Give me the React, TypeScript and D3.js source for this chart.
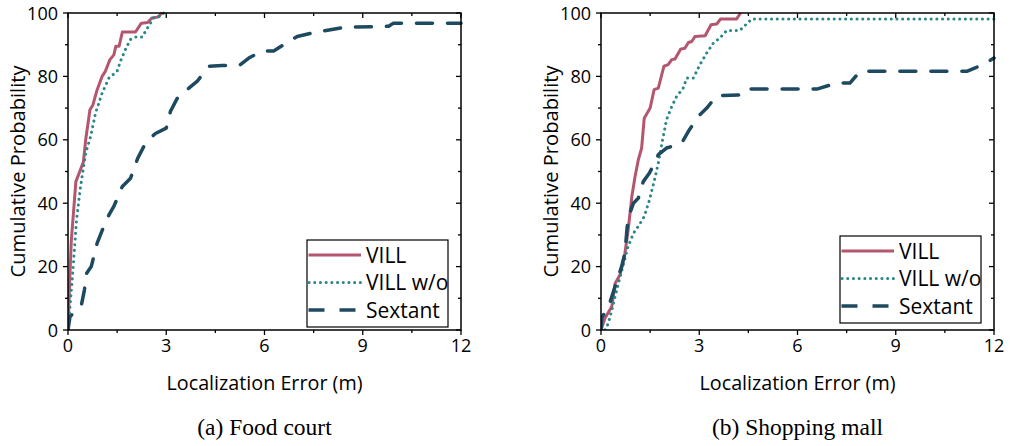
import React from "react";
import * as d3 from "d3";

type Pt = [number, number];

// Panel (a) Food court
const foodVill: Pt[] = [
  [0, 0], [0.05, 15], [0.1, 28], [0.24, 46.8], [0.47, 53], [0.54, 60], [0.67, 69.5], [0.76, 71],
  [0.89, 75.8], [1.04, 80], [1.14, 81.6], [1.28, 85.3], [1.4, 86.8], [1.46, 89.5],
  [1.56, 89.5], [1.66, 94], [2.06, 94], [2.24, 96.8], [2.43, 97], [2.56, 98.4],
  [2.74, 98.7], [2.87, 100],
];
const foodVillWo: Pt[] = [
  [0, 0], [0.06, 7.4], [0.13, 15.8], [0.26, 34.7], [0.38, 45], [0.54, 55.8], [0.69, 61],
  [0.84, 68.4], [1.04, 74.7], [1.25, 79.5], [1.5, 81.6], [1.6, 84.7], [1.75, 88.4],
  [1.9, 91.6], [2.06, 92.4], [2.26, 92.4], [2.46, 95.8], [2.61, 98.4], [2.82, 99], [2.92, 100],
];
const foodSextant: Pt[] = [
  [0, 0], [0.06, 4.2], [0.41, 7.9], [0.5, 12.6], [0.57, 17.9], [0.71, 20], [0.89, 27.4],
  [1.05, 31.6], [1.25, 36.3], [1.4, 39], [1.66, 45.3], [1.91, 47.9], [2.13, 54.2],
  [2.37, 59], [2.67, 62], [3.0, 63.7], [3.13, 69], [3.33, 73], [3.69, 76.3], [3.94, 78.4],
  [4.3, 83.2], [4.7, 83.4], [5.26, 83.7], [5.52, 85.8], [5.93, 88], [6.28, 88], [6.74, 91],
  [7.0, 92.6], [7.6, 94], [8.47, 95.5], [9.79, 95.8], [9.94, 96.8], [12, 96.8],
];

// Panel (b) Shopping mall
const mallVill: Pt[] = [
  [0, 0], [0.12, 3.7], [0.33, 7.4], [0.43, 14.7], [0.58, 17.4], [0.73, 24.2], [0.83, 31.6],
  [0.94, 42], [1.04, 48.4], [1.14, 53.7], [1.24, 57.4], [1.32, 66.8], [1.5, 70], [1.62, 75.8],
  [1.75, 76.3], [1.92, 83.2], [2.05, 83.7], [2.16, 85.3], [2.26, 85.5], [2.43, 88.6],
  [2.56, 88.9], [2.67, 90.7], [2.77, 91], [2.87, 92.6], [3.18, 92.8], [3.36, 96.3],
  [3.53, 96.5], [3.65, 98.1], [4.14, 98.1], [4.26, 100],
];
const mallVillWo: Pt[] = [
  [0.12, 0], [0.22, 2], [0.33, 6.3], [0.53, 14.7], [0.68, 20.5], [0.81, 25.8], [0.99, 30.5],
  [1.17, 33.2], [1.32, 35.8], [1.48, 41], [1.62, 46.8], [1.75, 52.6], [1.88, 60], [2.0, 66.3],
  [2.16, 70.5], [2.31, 73.7], [2.51, 76.3], [2.62, 79.5], [2.82, 79.5], [3.02, 83.7],
  [3.23, 87.4], [3.43, 90.5], [3.63, 92.1], [3.84, 94.5], [4.24, 94.5], [4.6, 98.1], [12, 98.1],
];
const mallSextant: Pt[] = [
  [0, 0], [0.02, 3.7], [0.28, 8.9], [0.43, 13.7], [0.63, 20], [0.73, 24.2], [0.8, 32.6],
  [0.88, 36.8], [0.99, 40], [1.14, 41.6], [1.29, 46.8], [1.48, 49.5], [1.75, 55.3], [2.0, 57.4],
  [2.46, 58.9], [2.7, 63.2], [3.02, 67.9], [3.23, 70], [3.53, 73.9], [4.34, 74.2], [4.5, 76],
  [6.59, 76], [7.2, 77.9], [7.6, 77.9], [7.91, 81.6], [11.17, 81.6], [11.67, 83.7], [12, 85.8],
];

const xTicks = [0, 3, 6, 9, 12];
const yTicks = [0, 20, 40, 60, 80, 100];
const seriesNames = ["VILL", "VILL w/o", "Sextant"];
const captions = ["(a) Food court", "(b) Shopping mall"];
const xTitle = "Localization Error (m)";
const yTitle = "Cumulative Probability";

const RED = "#b5566f";
const TEAL = "#2b8787";
const NAVY = "#1d4a60";
const SANS = "'Open Sans', 'Noto Sans', sans-serif";
const SERIF = "'Liberation Serif', 'DejaVu Serif', serif";

const styles = [
  { stroke: RED, width: 3, dash: undefined as string | undefined, cap: "butt" as const },
  { stroke: TEAL, width: 3, dash: "0.1,5.6", cap: "round" as const },
  { stroke: NAVY, width: 3.5, dash: "16,15", cap: "round" as const },
];

interface PanelProps {
  left: number;
  data: Pt[][];
  caption: string;
  id: string;
  legendTop: number;
}

function Panel({ left, data, caption, id, legendTop }: PanelProps) {
  const top = 13;
  const bottom = 330;
  const width = 393;
  const x = d3.scaleLinear().domain([0, 12]).range([left, left + width]);
  const y = d3.scaleLinear().domain([0, 100]).range([bottom, top]);
  const line = d3
    .line<Pt>()
    .x((d) => x(d[0]))
    .y((d) => y(d[1]));
  const xMinor = d3.range(0, 12.01, 1.5);
  const yMinor = d3.range(0, 100.01, 10);
  const cx = left + width / 2;
  const legLeft = left + 239;
  const legW = 141;
  const legH = 87;
  return (
    <g>
      <defs>
        <clipPath id={id}>
          <rect x={left} y={top - 2} width={width + 2} height={bottom - top + 2} />
        </clipPath>
      </defs>
      <g clipPath={`url(#${id})`}>
        {data.map((s, i) => (
          <path
            key={i}
            d={line(s) || ""}
            fill="none"
            stroke={styles[i].stroke}
            strokeWidth={styles[i].width}
            strokeDasharray={styles[i].dash}
            strokeLinecap={styles[i].cap}
            strokeLinejoin="round"
          />
        ))}
      </g>
      {xMinor.map((v) => {
        const major = xTicks.includes(v);
        const len = major ? 5 : 3;
        return (
          <g key={"xt" + v}>
            <line x1={x(v)} x2={x(v)} y1={bottom} y2={bottom + len} stroke="#000" strokeWidth={1.3} />
            <line x1={x(v)} x2={x(v)} y1={top} y2={top + len} stroke="#000" strokeWidth={1.3} />
          </g>
        );
      })}
      {yMinor.map((v) => {
        const major = yTicks.includes(v);
        const len = major ? 5 : 3;
        return (
          <g key={"yt" + v}>
            <line x1={left - len} x2={left} y1={y(v)} y2={y(v)} stroke="#000" strokeWidth={1.3} />
            <line x1={left + width - len} x2={left + width} y1={y(v)} y2={y(v)} stroke="#000" strokeWidth={1.3} />
          </g>
        );
      })}
      <rect x={left} y={top} width={width} height={bottom - top} fill="none" stroke="#000" strokeWidth={1.5} />
      {xTicks.map((v) => (
        <text key={"xl" + v} x={x(v)} y={bottom + 22} textAnchor="middle" fontSize={18} fontFamily={SANS}>
          {v}
        </text>
      ))}
      {yTicks.map((v) => (
        <text key={"yl" + v} x={left - 10} y={y(v) + 6.5} textAnchor="end" fontSize={18} fontFamily={SANS}>
          {v}
        </text>
      ))}
      <text
        x={cx}
        y={390}
        textAnchor="middle"
        fontSize={19.5}
        fontFamily={SANS}
        textLength={196}
        lengthAdjust="spacingAndGlyphs"
      >
        {xTitle}
      </text>
      <text
        transform={`translate(${left - 43},${(top + bottom) / 2}) rotate(-90)`}
        textAnchor="middle"
        fontSize={20.5}
        fontFamily={SANS}
        textLength={212}
        lengthAdjust="spacingAndGlyphs"
      >
        {yTitle}
      </text>
      <text x={cx} y={435} textAnchor="middle" fontSize={23.5} fontFamily={SERIF}>
        {caption}
      </text>
      <rect x={legLeft} y={legendTop} width={legW} height={legH} fill="#fff" stroke="#000" strokeWidth={1.2} />
      {seriesNames.map((n, i) => {
        const ry = legendTop + 15 + i * 27.5;
        return (
          <g key={n}>
            <line
              x1={legLeft + (i === 1 ? 2 : 1.5)}
              x2={legLeft + 54}
              y1={ry}
              y2={ry}
              stroke={styles[i].stroke}
              strokeWidth={styles[i].width}
              strokeDasharray={styles[i].dash}
              strokeLinecap={i === 2 ? "butt" : styles[i].cap}
            />
            <text x={legLeft + 59} y={ry + 7.5} fontSize={21} fontFamily={SANS}>
              {n}
            </text>
          </g>
        );
      })}
    </g>
  );
}

export default function App() {
  return (
    <svg width={1010} height={446} style={{ position: "absolute", left: 0, top: 0, background: "#fff" }}>
      <rect x={0} y={0} width={1010} height={446} fill="#fff" />
      <Panel left={68} data={[foodVill, foodVillWo, foodSextant]} caption={captions[0]} id="clipA" legendTop={240} />
      <Panel left={601} data={[mallVill, mallVillWo, mallSextant]} caption={captions[1]} id="clipB" legendTop={236} />
    </svg>
  );
}
